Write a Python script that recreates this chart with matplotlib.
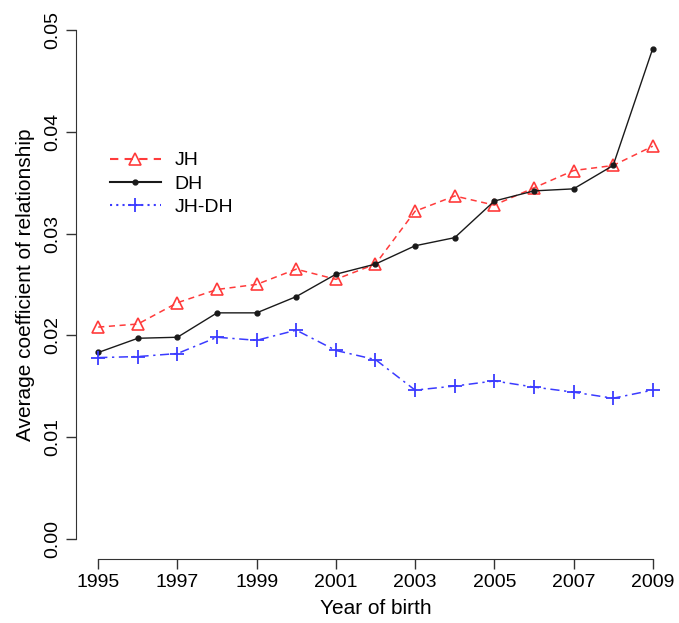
import matplotlib
matplotlib.use("Agg")
import matplotlib.pyplot as plt
from matplotlib.lines import Line2D

years = list(range(1995, 2010))
jh = [0.0208, 0.0211, 0.0232, 0.0245, 0.0250, 0.0265, 0.0255, 0.0270,
      0.0322, 0.0337, 0.0328, 0.0345, 0.0362, 0.0367, 0.0386]
dh = [0.0183, 0.0197, 0.0198, 0.0222, 0.0222, 0.0238, 0.0260, 0.0270,
      0.0288, 0.0296, 0.0332, 0.0342, 0.0344, 0.0367, 0.0482]
jh_dh = [0.0178, 0.0179, 0.0182, 0.0198, 0.0195, 0.0205, 0.0185, 0.0176,
         0.0146, 0.0150, 0.0155, 0.0149, 0.0144, 0.0138, 0.0146]
xticks = [1995, 1997, 1999, 2001, 2003, 2005, 2007, 2009]
yticks = [0.00, 0.01, 0.02, 0.03, 0.04, 0.05]

red = "#ff3b3b"
blue = "#3b3bff"
black = "#1a1a1a"

plt.rcParams["font.family"] = ["Liberation Sans", "DejaVu Sans"]

fig = plt.figure(figsize=(6.79, 6.23), dpi=100)
ax = fig.add_axes([0.112, 0.103, 0.882, 0.881])

ax.plot(years, jh, color=red, linestyle=(0, (4, 3)), linewidth=1.1,
        marker="^", markersize=8, markerfacecolor="none", markeredgecolor=red,
        markeredgewidth=1.2)
ax.plot(years, dh, color=black, linestyle="-", linewidth=1.0,
        marker="o", markersize=3.5, markerfacecolor=black, markeredgecolor=black)
ax.plot(years, jh_dh, color=blue, linestyle=(0, (6, 3, 1.5, 3)), linewidth=1.1,
        marker="+", markersize=10, markeredgewidth=1.3)

ax.set_xlim(1994.44, 2009.56)
ax.set_ylim(-0.002, 0.052)
ax.set_xticks(xticks)
ax.set_yticks(yticks)
ax.set_yticklabels(["%.2f" % v for v in yticks], rotation=90, va="center")
ax.tick_params(direction="out", length=7, width=1, labelsize=14, color="#333333")
ax.tick_params(axis="x", pad=4)
ax.tick_params(axis="y", pad=4)

for side in ["top", "right"]:
    ax.spines[side].set_visible(False)
ax.spines["left"].set_bounds(0.0, 0.05)
ax.spines["bottom"].set_bounds(1995, 2009)
ax.spines["left"].set_color("#333333")
ax.spines["bottom"].set_color("#333333")

ax.set_xlabel("Year of birth", fontsize=15, labelpad=6)
ax.set_ylabel("Average coefficient of relationship", fontsize=15, labelpad=6)

handles = [
    Line2D([], [], color=red, linestyle=(0, (4, 3)), marker="^", markersize=8,
           markerfacecolor="none", markeredgewidth=1.2),
    Line2D([], [], color=black, linestyle="-", marker="o", markersize=3.5),
    Line2D([], [], color=blue, linestyle=(0, (1, 2)), marker="+", markersize=10,
           markeredgewidth=1.3),
]
fig.legend(handles, ["JH", "DH", "JH-DH"], loc="upper left",
           bbox_to_anchor=(0.148, 0.772), frameon=False, fontsize=14,
           handlelength=2.6, handletextpad=0.7, labelspacing=0.3, borderpad=0)

fig.savefig("out.png", dpi=100)
